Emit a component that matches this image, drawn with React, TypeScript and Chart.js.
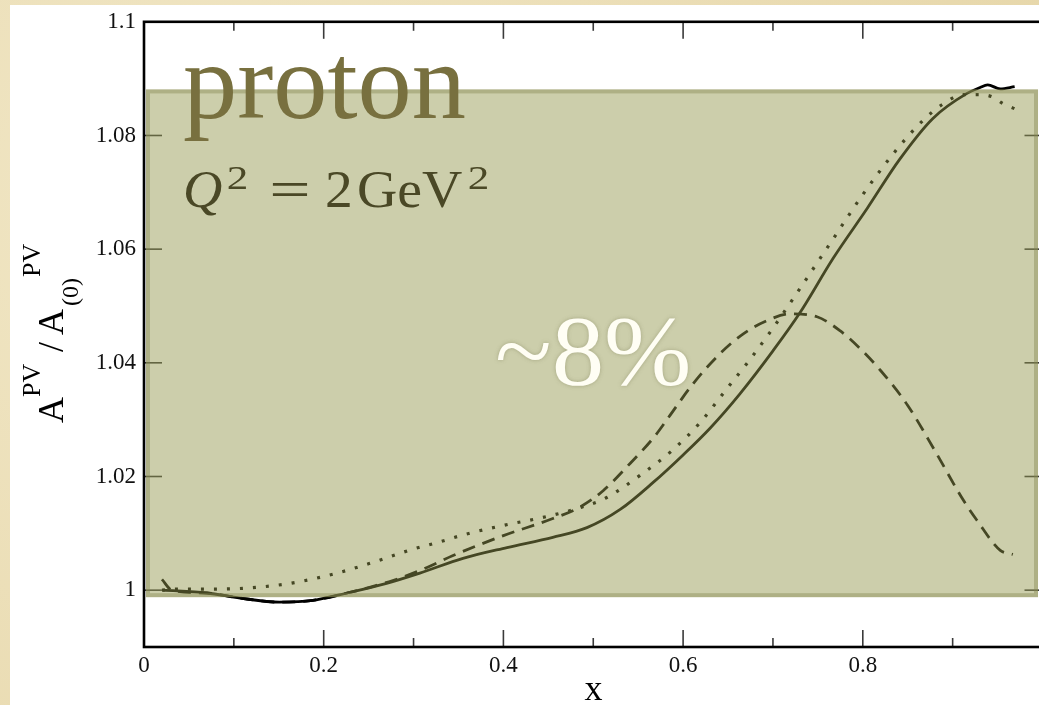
import React, { useEffect, useRef } from "react";
import { Chart, registerables } from "chart.js";
Chart.register(...registerables);

// ---- data ----
const SOLID_X = [0.021, 0.07, 0.107, 0.151, 0.188, 0.226, 0.27, 0.307, 0.355, 0.404, 0.455, 0.493, 0.53, 0.567, 0.6, 0.63, 0.663, 0.7, 0.73, 0.767, 0.805, 0.841, 0.878, 0.916, 0.93, 0.939, 0.953, 0.969];
const SOLID_Y = [1.0, 0.9995, 0.9986, 0.9979, 0.9982, 0.9995, 1.0012, 1.003, 1.0056, 1.0075, 1.0093, 1.011, 1.0142, 1.019, 1.0238, 1.0285, 1.0345, 1.0421, 1.0488, 1.0584, 1.0672, 1.0758, 1.083, 1.0874, 1.0884, 1.0889, 1.0882, 1.0886];

const DASHED_X = [0.02, 0.031, 0.07, 0.107, 0.151, 0.188, 0.226, 0.277, 0.315, 0.344, 0.4, 0.455, 0.485, 0.511, 0.541, 0.567, 0.582, 0.611, 0.641, 0.667, 0.693, 0.719, 0.749, 0.775, 0.797, 0.82, 0.85, 0.88, 0.912, 0.927, 0.953, 0.967];
const DASHED_Y = [1.0019, 1.0, 0.9995, 0.9986, 0.9979, 0.9982, 0.9995, 1.0017, 1.004, 1.0061, 1.0096, 1.0126, 1.0146, 1.0175, 1.0223, 1.0268, 1.03, 1.0363, 1.0416, 1.0451, 1.0474, 1.0486, 1.0481, 1.0456, 1.0425, 1.0386, 1.0325, 1.0246, 1.0158, 1.0123, 1.007, 1.0063];

const DOTTED_X = [0.02, 0.037, 0.081, 0.126, 0.17, 0.215, 0.255, 0.299, 0.327, 0.357, 0.4, 0.444, 0.487, 0.515, 0.552, 0.588, 0.619, 0.647, 0.674, 0.7, 0.717, 0.734, 0.767, 0.8, 0.836, 0.866, 0.888, 0.912, 0.928, 0.944, 0.956, 0.969];
const DOTTED_Y = [1.0, 1.0002, 1.0002, 1.0005, 1.0014, 1.003, 1.0049, 1.0072, 1.0084, 1.0098, 1.0114, 1.0128, 1.0146, 1.0163, 1.0202, 1.0246, 1.0295, 1.0351, 1.0405, 1.0461, 1.05, 1.054, 1.0618, 1.0696, 1.0772, 1.0825, 1.0854, 1.0872, 1.0872, 1.0868, 1.0856, 1.0847];

const X_LABELS = [0, 0.2, 0.4, 0.6, 0.8];
const X_MAJOR = [0, 0.2, 0.4, 0.6, 0.8, 1.0];
const X_MINOR = [0.1, 0.3, 0.5, 0.7, 0.9];
const Y_TICKS = [1.0, 1.02, 1.04, 1.06, 1.08, 1.1];

const BAND_X = [0.0022, 0.995];
const BAND_Y = [0.99877, 1.0881];

const X_RANGE = [0, 1];
const Y_RANGE = [0.99, 1.1];

const W = 1060;
const H = 705;
const SERIF = '"Liberation Serif", "DejaVu Serif", serif';

const fmt = (v: number) => String(Math.round(v * 100) / 100);
const pts = (xs: number[], ys: number[]) => xs.map((x, i) => ({ x, y: ys[i] }));

// draw text so that its ink spans [x, x + width]
function stretched(ctx: CanvasRenderingContext2D, t: string, x: number, y: number, width: number) {
  const m = ctx.measureText(t);
  const ink = m.actualBoundingBoxLeft + m.actualBoundingBoxRight;
  const s = width / ink;
  ctx.save();
  ctx.translate(x + m.actualBoundingBoxLeft * s, y);
  ctx.scale(s, 1);
  ctx.fillText(t, 0, 0);
  ctx.restore();
}

const decor = {
  id: "decor",
  beforeDatasetsDraw(chart: any) {
    const { ctx, chartArea: a, scales } = chart;
    const xs = scales.x, ys = scales.y;
    ctx.save();
    ctx.strokeStyle = "#3a3a3a";
    ctx.lineWidth = 1.6;
    const tick = (x1: number, y1: number, x2: number, y2: number) => {
      ctx.beginPath(); ctx.moveTo(x1, y1); ctx.lineTo(x2, y2); ctx.stroke();
    };
    X_MAJOR.forEach((v) => {
      const p = xs.getPixelForValue(v);
      tick(p, a.bottom, p, a.bottom - 17);
      tick(p, a.top, p, a.top + 17);
    });
    X_MINOR.forEach((v) => {
      const p = xs.getPixelForValue(v);
      tick(p, a.bottom, p, a.bottom - 9);
      tick(p, a.top, p, a.top + 9);
    });
    Y_TICKS.forEach((v) => {
      const p = ys.getPixelForValue(v);
      tick(a.left, p, a.left + 18, p);
      tick(a.right, p, a.right - 18, p);
    });
    ctx.restore();
  },
  afterDatasetsDraw(chart: any) {
    const { ctx, chartArea: a, scales } = chart;
    const xs = scales.x, ys = scales.y;
    ctx.save();
    // translucent band over the curves
    const bx0 = xs.getPixelForValue(BAND_X[0]);
    const bx1 = xs.getPixelForValue(BAND_X[1]);
    const by0 = ys.getPixelForValue(BAND_Y[1]);
    const by1 = ys.getPixelForValue(BAND_Y[0]);
    const bandCol = "rgba(146,150,76,0.47)";
    ctx.fillStyle = bandCol;
    ctx.fillRect(bx0, by0, bx1 - bx0, by1 - by0);
    ctx.strokeStyle = "rgba(130,134,80,0.42)";
    ctx.lineWidth = 4;
    ctx.strokeRect(bx0 + 2, by0 + 2, bx1 - bx0 - 4, by1 - by0 - 4);

    // annotations
    ctx.textAlign = "left";
    ctx.textBaseline = "alphabetic";
    ctx.fillStyle = "#78703f";
    ctx.font = `108px ${SERIF}`;
    stretched(ctx, "proton", 184, 118, 281);

    ctx.fillStyle = "#4a4826";
    ctx.font = `italic 53px ${SERIF}`;
    stretched(ctx, "Q", 185, 207, 37);
    ctx.font = `34px ${SERIF}`;
    stretched(ctx, "2", 228, 189, 19);
    ctx.font = `53px ${SERIF}`;
    stretched(ctx, "=", 272, 207, 36);
    stretched(ctx, "2", 327, 207, 23);
    stretched(ctx, "GeV", 359, 207, 103);
    ctx.font = `34px ${SERIF}`;
    stretched(ctx, "2", 469, 189, 19);

    ctx.save();
    ctx.shadowColor = "rgba(90,90,50,0.35)";
    ctx.shadowBlur = 4;
    ctx.fillStyle = "#fffef4";
    ctx.font = `100px ${SERIF}`;
    stretched(ctx, "~8%", 497, 384, 191);
    ctx.restore();

    // frame
    ctx.strokeStyle = "#000";
    ctx.lineWidth = 2.6;
    ctx.strokeRect(a.left, a.top, a.right - a.left, a.bottom - a.top);

    // axis titles
    ctx.fillStyle = "#000";
    ctx.textAlign = "center";
    ctx.font = `36px ${SERIF}`;
    ctx.fillText("x", (a.left + 1039) / 2 + 2, 700);

    ctx.translate(63, 423);
    ctx.rotate(-Math.PI / 2);
    ctx.textAlign = "left";
    ctx.font = `36px ${SERIF}`;
    ctx.fillText("A", 0, 0);
    ctx.font = `26px ${SERIF}`;
    ctx.fillText("PV", 26, -23);
    ctx.font = `36px ${SERIF}`;
    ctx.fillText("/", 71, 0);
    ctx.fillText("A", 88, 0);
    ctx.font = `24px ${SERIF}`;
    ctx.fillText("(0)", 117, 15);
    ctx.font = `26px ${SERIF}`;
    ctx.fillText("PV", 146, -23);
    ctx.restore();
  },
};

export default function App() {
  const ref = useRef<HTMLCanvasElement | null>(null);
  useEffect(() => {
    if (!ref.current) return;
    const line = { borderColor: "#000", borderWidth: 2.8, pointRadius: 0, fill: false, cubicInterpolationMode: "monotone" as const };
    const chart = new Chart(ref.current, {
      type: "line",
      data: {
        datasets: [
          { ...line, label: "solid", data: pts(SOLID_X, SOLID_Y) },
          { ...line, label: "dashed", data: pts(DASHED_X, DASHED_Y), borderDash: [13, 8] },
          { ...line, label: "dotted", data: pts(DOTTED_X, DOTTED_Y), borderDash: [3, 10], borderWidth: 3.2 },
        ],
      },
      options: {
        responsive: false,
        animation: false,
        layout: { padding: { left: 0, top: 20, right: W - 1042.5, bottom: 0 } },
        plugins: { legend: { display: false }, tooltip: { enabled: false } },
        scales: {
          x: {
            type: "linear",
            min: X_RANGE[0],
            max: X_RANGE[1],
            afterBuildTicks: (s: any) => { s.ticks = X_LABELS.map((v) => ({ value: v })); },
            afterFit: (s: any) => { s.height = H - 647; },
            grid: { display: false, drawTicks: false },
            border: { display: false },
            ticks: { font: { family: SERIF, size: 23 }, color: "#111", padding: 5, maxRotation: 0, autoSkip: false, callback: (v: any) => fmt(Number(v)) },
          },
          y: {
            type: "linear",
            min: Y_RANGE[0],
            max: Y_RANGE[1],
            afterBuildTicks: (s: any) => { s.ticks = Y_TICKS.map((v) => ({ value: v })); },
            afterFit: (s: any) => { s.width = 144; },
            grid: { display: false, drawTicks: false },
            border: { display: false },
            ticks: { font: { family: SERIF, size: 23 }, color: "#111", padding: 8, autoSkip: false, callback: (v: any) => fmt(Number(v)) },
          },
        },
      },
      plugins: [decor],
    });
    return () => chart.destroy();
  }, []);

  return (
    <div style={{ position: "fixed", inset: 0, overflow: "hidden", background: "radial-gradient(circle at 20% 30%, #f1e7c6 0%, #eadcb3 60%, #e6d6a8 100%)" }}>
      <div style={{ position: "absolute", left: 10, top: 5, right: 0, bottom: 0, background: "#fff" }} />
      <canvas ref={ref} width={W} height={H} style={{ position: "absolute", left: 0, top: 0, width: W, height: H }} />
    </div>
  );
}
